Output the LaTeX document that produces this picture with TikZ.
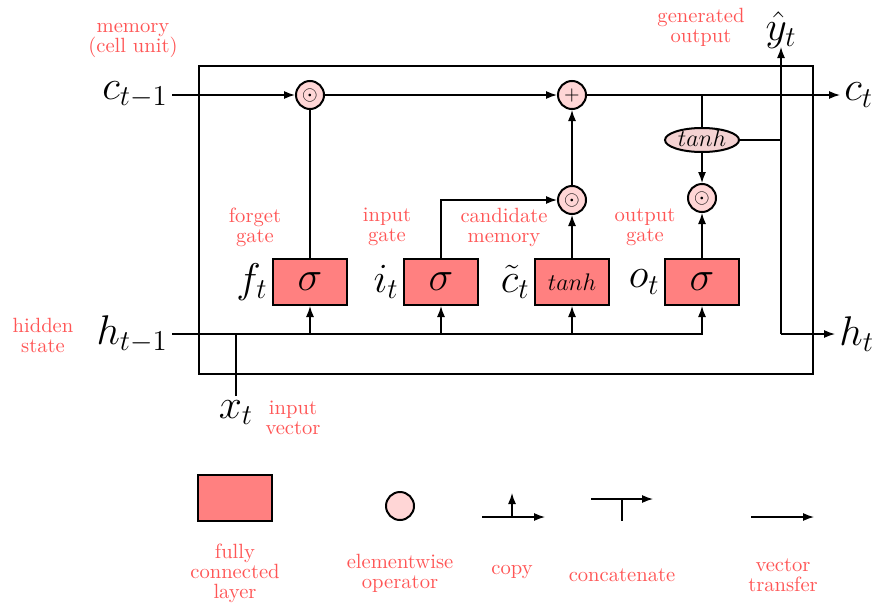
\documentclass[tikz,border=0pt]{standalone}
\usetikzlibrary{arrows.meta,shapes.geometric}
\definecolor{notered}{HTML}{FF5555}
\definecolor{fcfill}{HTML}{FF8080}
\definecolor{opfill}{HTML}{FFD6D6}
\definecolor{elfill}{HTML}{F4D2D2}
\begin{document}
\begin{tikzpicture}[x=0.5pt,y=-0.5pt,
  >={Latex[length=5.5pt,width=4pt]},
  conn/.style={line width=0.65pt},
  fc/.style={draw,line width=1pt,fill=fcfill,minimum width=37pt,minimum height=23pt,inner sep=0pt,font=\fontsize{13}{15}\selectfont},
  sig/.style={font=\huge},
  op/.style={draw,circle,line width=1pt,fill=opfill,minimum size=14pt,inner sep=0pt},
  el/.style={draw,ellipse,line width=1pt,fill=elfill,minimum width=37pt,minimum height=12pt,inner sep=-1pt,text height=6pt,text depth=0pt,font=\fontsize{13}{15}\selectfont},
  lbl/.style={font=\huge,inner sep=2pt},
  note/.style={text=notered,align=center,inner sep=1pt,font=\fontsize{10.3}{10}\selectfont},
]
\useasboundingbox (0,0) rectangle (876,605);
% cell boundary
\draw[line width=1pt] (199,66) rectangle (813,374);

% nodes
\node[lbl,anchor=east] (ctm) at (172,95) {$c_{t-1}$};
\node[op] (m1) at (310,95) {$\odot$};
\node[op] (add) at (572,95) {$+$};
\node[lbl,anchor=west] (ct) at (840,95) {$c_t$};
\node[fc,sig] (fg) at (310,282) {$\sigma$};
\node[fc,sig] (ig) at (441,282) {$\sigma$};
\node[fc] (cg) at (572,282) {$tanh$};
\node[fc,sig] (og) at (702,282) {$\sigma$};
\node[op] (m2) at (572,200) {$\odot$};
\node[op] (m3) at (702,198) {$\odot$};
\node[el] (th) at (702,140) {$tanh$};
\node[lbl,anchor=east] (htm) at (172,334) {$h_{t-1}$};
\node[lbl,anchor=north] (xt) at (236,396) {$x_t$};
\node[lbl,anchor=west] (ht) at (835,334) {$h_t$};
\node[lbl,anchor=south,inner sep=0pt] (yt) at (781,49) {$\hat{y}_t$};

\node[lbl,anchor=east] (flab) at (fg.west) {$f_t$};
\node[lbl,anchor=east] (ilab) at (ig.west) {$i_t$};
\node[lbl,anchor=east] (clab) at (cg.west) {$\tilde{c}_t$};
\node[lbl,anchor=east] (olab) at (og.west) {$o_t$};

\coordinate (jb) at (781,334);

% connectors
\draw[conn,->] (ctm.east) -- (m1);
\draw[conn,->] (m1) -- (add);
\draw[conn,->] (add) -- (ct.west);
\draw[conn] (fg) -- (m1);
\draw[conn,->] (ig.north) |- (m2);
\draw[conn,->] (cg) -- (m2);
\draw[conn,->] (m2) -- (add);
\draw[conn] (th) -- (th |- add);
\draw[conn,->] (th) -- (m3);
\draw[conn,->] (og) -- (m3);
\draw[conn] (th) -- (th -| jb);
\draw[conn,->] (jb) -- ([yshift=1pt]yt.south);
\draw[conn,->] (jb) -- (ht.west);
\draw[conn,->] (htm.east) -| (og.south);
\draw[conn,->] (fg.south |- htm.east) -- (fg.south);
\draw[conn,->] (ig.south |- htm.east) -- (ig.south);
\draw[conn,->] (cg.south |- htm.east) -- (cg.south);
\draw[conn] (xt.north) -- (xt.north |- htm.east);

% notes
\node[note] (nmem) at (133,40) {memory\\(cell unit)};
\node[note] (ngen) at (701,27) {generated\\output};
\node[note] (nfg) at (255,227) {forget\\gate};
\node[note] (nig) at (387,227) {input\\gate};
\node[note] (ncm) at (504,227) {candidate\\memory};
\node[note] (nog) at (645,227) {output\\gate};
\node[note] (nhs) at (43,335) {hidden\\state};
\node[note] (niv) at (293,418) {input\\vector};

% legend
\node[fc] (lfc) at (235,498) {};
\node[op] (lop) at (400,506) {};
\coordinate (cpa) at (482,517);
\coordinate (cpb) at (545,517);
\coordinate (cpm) at (512,517);
\coordinate (cpt) at (512,493);
\draw[conn,->] (cpa) -- (cpb);
\draw[conn,->] (cpm) -- (cpt);
\coordinate (cca) at (591,499);
\coordinate (ccb) at (653,499);
\coordinate (ccm) at (622,499);
\coordinate (ccd) at (622,521);
\draw[conn,->] (cca) -- (ccb);
\draw[conn] (ccm) -- (ccd);
\coordinate (vta) at (751,517);
\coordinate (vtb) at (814,517);
\draw[conn,->] (vta) -- (vtb);

\node[note] (nfc) at (235,573) {fully\\connected\\layer};
\node[note] (nop) at (400,573) {elementwise\\operator};
\node[note] (ncp) at (512,572) {copy};
\node[note] (ncc) at (622,575) {concatenate};
\node[note] (nvt) at (783,575) {vector\\transfer};
\end{tikzpicture}
\end{document}
